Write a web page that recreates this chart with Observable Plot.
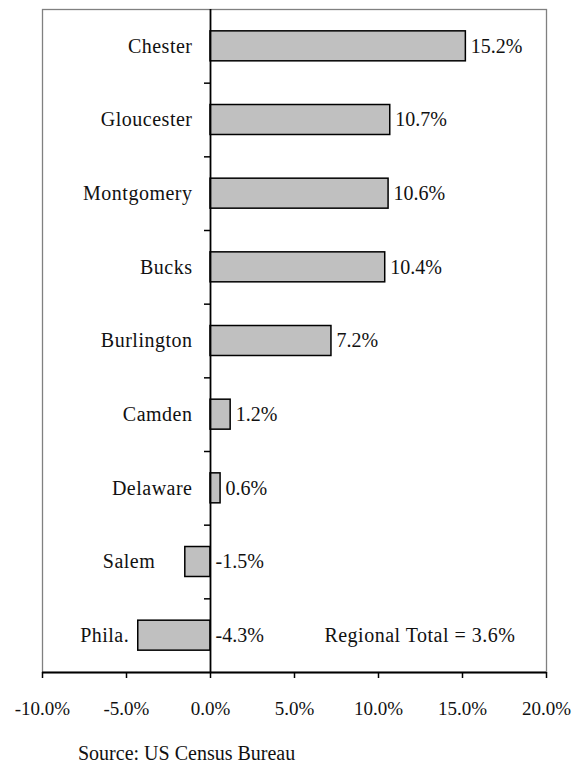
<!DOCTYPE html>
<html>
<head>
<meta charset="utf-8">
<script src="https://cdn.jsdelivr.net/npm/d3@7"></script>
<script src="https://cdn.jsdelivr.net/npm/@observablehq/plot@0.6"></script>
<style>
  html, body { margin: 0; padding: 0; background: #fff; }
  body { position: relative; width: 581px; height: 765px; overflow: hidden; font-family: "Liberation Serif", "DejaVu Serif", serif; }
  #source { position: absolute; left: 78px; top: 743px; font-size: 20px; line-height: 20px; color: #111; white-space: nowrap; }
  .cat text, .total text { letter-spacing: 0.5px; }
</style>
</head>
<body>
<div id="chart"></div>
<div id="source">Source: US Census Bureau</div>
<script>
const counties = ["Chester", "Gloucester", "Montgomery", "Bucks", "Burlington", "Camden", "Delaware", "Salem", "Phila."];
const growth = [15.2, 10.7, 10.6, 10.4, 7.2, 1.2, 0.6, -1.5, -4.3];
const xTicks = [-10, -5, 0, 5, 10, 15, 20];
const regionalTotal = "Regional Total = 3.6%";

const data = counties.map((c, i) => ({county: c, value: growth[i], idx: i}));
const boundaries = counties.slice(1).map((c, i) => i + 0.5);
const half = 0.2035;
const fmt = d => (d < 0 ? "-" : "") + Math.abs(d).toFixed(1) + "%";

const chart = Plot.plot({
  width: 581,
  height: 730,
  marginLeft: 42,
  marginRight: 35,
  marginTop: 9,
  marginBottom: 58,
  style: {fontFamily: "'Liberation Serif', 'DejaVu Serif', serif", fontSize: "20px", color: "#111", background: "#fff"},
  x: {domain: [-10, 20], label: null},
  y: {domain: [-0.5, counties.length - 0.5], reverse: true, axis: null},
  marks: [
    Plot.frame({stroke: "#808080", strokeWidth: 1.3}),
    Plot.rectX(data, {x1: 0, x2: "value", y1: d => d.idx - half, y2: d => d.idx + half, fill: "#c0c0c0", stroke: "#000", strokeWidth: 1.5}),
    Plot.ruleX([0], {stroke: "#000", strokeWidth: 1.8}),
    Plot.ruleY([counties.length - 0.5], {stroke: "#000", strokeWidth: 1.8}),
    Plot.ruleY(boundaries, {y: d => d, x1: 0, x2: 0, insetLeft: -6, stroke: "#000", strokeWidth: 1.5}),
    Plot.axisX({ticks: xTicks, tickFormat: fmt, label: null, tickSize: 6, tickPadding: 23, strokeWidth: 1.5, stroke: "#000", fill: "#111", fontSize: 19}),
    Plot.text(data.filter(d => d.value >= 0), {x: 0, y: "idx", text: "county", textAnchor: "end", dx: -18, fill: "#111", className: "cat"}),
    Plot.text(data.filter(d => d.value < 0 && d.value > -3), {x: "value", y: "idx", text: "county", textAnchor: "end", dx: -30, fill: "#111", className: "cat"}),
    Plot.text(data.filter(d => d.value <= -3), {x: "value", y: "idx", text: "county", textAnchor: "end", dx: -9, fill: "#111", className: "cat"}),
    Plot.text(data, {x: d => Math.max(0, d.value), y: "idx", text: d => fmt(d.value), textAnchor: "start", dx: 5, fill: "#111"}),
    Plot.text([regionalTotal], {y: [counties.length - 1], text: d => d, frameAnchor: "right", textAnchor: "end", dx: -31, fill: "#111", className: "total"})
  ]
});
document.getElementById("chart").appendChild(chart);
</script>
</body>
</html>
